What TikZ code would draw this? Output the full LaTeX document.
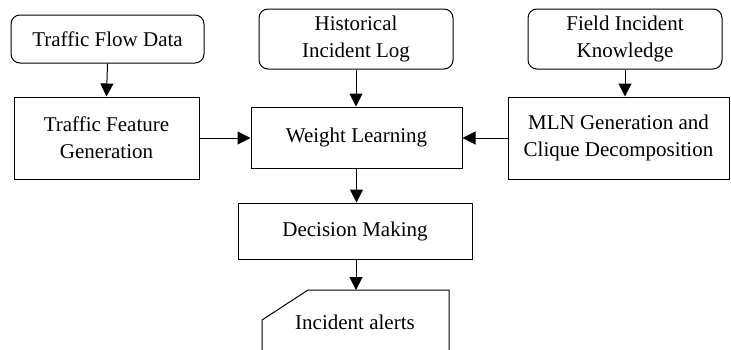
\documentclass[tikz,border=0pt]{standalone}
\usepackage{fontspec}
\setmainfont{Liberation Serif}
\usetikzlibrary{arrows.meta}
\begin{document}
\begin{tikzpicture}[x=1pt,y=-1pt,
  every node/.style={font=\fontsize{21}{27}\selectfont, align=center, inner sep=0pt},
  src/.style={draw, line width=1pt, rounded corners=9pt},
  proc/.style={draw, line width=1pt},
  arr/.style={line width=1pt, -{Triangle[length=13pt,width=13pt]}}]
\useasboundingbox (0,0) rectangle (731,349);
\node[src, minimum width=193pt, minimum height=48pt] (tfd) at (107.5,39) {Traffic Flow Data};
\node[proc, minimum width=185pt, minimum height=82pt] (tfg) at (106.5,138) {Traffic Feature\\Generation};
\node[src, minimum width=194pt, minimum height=60pt] (hil) at (356,39) {Historical\\Incident Log};
\node[proc, minimum width=211pt, minimum height=61pt] (wl) at (356.5,137.5) {Weight Learning};
\node[src, minimum width=194pt, minimum height=60pt] (fik) at (625,39) {Field Incident\\Knowledge};
\node[proc, minimum width=221pt, minimum height=82pt] (mln) at (618.5,138) {MLN Generation and\\Clique Decomposition};
\node[proc, minimum width=234pt, minimum height=56pt] (dm) at (355,231) {Decision Making};
\node (ia) at (355,322) {Incident alerts};
\coordinate (iatop) at (356,290);
\draw[line width=1pt] (262,352) -- (262,320) -- (308,290) -- (449,290) -- (449,352);
\draw[arr] (tfd.south) -- (tfg.north);
\draw[arr] (hil.south) -- (hil.south |- wl.north);
\draw[arr] (fik.south) -- (fik.south |- mln.north);
\draw[arr] (tfg.east) -- (wl.west |- tfg.east);
\draw[arr] (mln.west) -- (wl.east |- mln.west);
\draw[arr] (wl.south) -- (wl.south |- dm.north);
\draw[arr] (dm.south -| iatop) -- (iatop);
\end{tikzpicture}
\end{document}
